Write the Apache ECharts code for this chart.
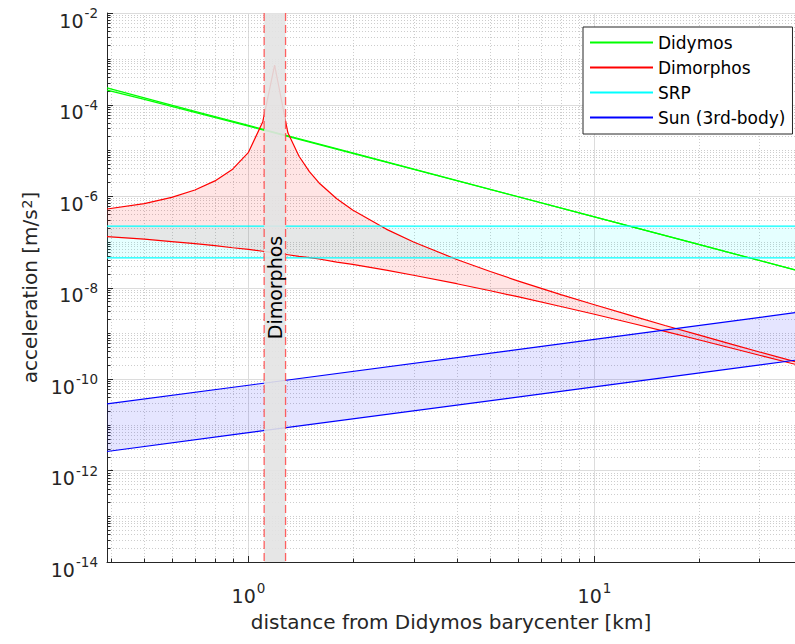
<!DOCTYPE html>
<html>
<head>
<meta charset="utf-8">
<script src="https://cdn.jsdelivr.net/npm/echarts@6/dist/echarts.min.js"></script>
<style>
html,body{margin:0;padding:0;background:#ffffff;}
#chart{width:795px;height:644px;}
</style>
</head>
<body>
<div id="chart"></div>
<script>
// ---------------- data ----------------
const xRange = [0.39, 38];
const yRange = [1e-14, 1e-2];
const xTickValues = [1, 10];
const yTickValues = [1e-14, 1e-12, 1e-10, 1e-8, 1e-6, 1e-4, 1e-2];
const xAxisTitle = 'distance from Didymos barycenter [km]';
const yAxisTitle = 'acceleration [m/s{s|2}]';
const legendNames = ['Didymos', 'Dimorphos', 'SRP', 'Sun (3rd-body)'];

const didymosX = [0.39, 0.5, 0.7, 1, 2, 5, 10, 20, 38];
const didymosUpper = [2.30e-4, 1.40e-4, 7.1e-5, 3.5e-5, 8.75e-6, 1.40e-6, 3.5e-7, 8.75e-8, 2.42e-8];
const didymosLower = [2.07e-4, 1.29e-4, 6.73e-5, 3.36e-5, 8.57e-6, 1.39e-6, 3.49e-7, 8.73e-8, 2.42e-8];

const dimorphosX = [0.39, 0.5, 0.6, 0.7, 0.8, 0.9, 1.0, 1.1, 1.19, 1.3, 1.4, 1.5, 1.6, 1.8, 2.0, 2.5, 3, 4, 5, 6, 8, 10, 13, 16, 20, 25, 30, 38];
const dimorphosNear = [5.2e-7, 6.8e-7, 9.3e-7, 1.35e-6, 2.14e-6, 3.86e-6, 9.0e-6, 4.2e-5, 7.3e-4, 2.4e-5, 7.4e-6, 3.4e-6, 1.93e-6, 8.7e-7, 4.95e-7, 1.89e-7, 9.9e-8, 4.1e-8, 2.24e-8, 1.40e-8, 7.0e-9, 4.2e-9, 2.33e-9, 1.48e-9, 9.2e-10, 5.7e-10, 3.9e-10, 2.4e-10];
const dimorphosFar = [1.30e-7, 1.14e-7, 1.01e-7, 9.1e-8, 8.2e-8, 7.4e-8, 6.8e-8, 6.2e-8, 5.7e-8, 5.2e-8, 4.8e-8, 4.5e-8, 4.2e-8, 3.6e-8, 3.2e-8, 2.4e-8, 1.85e-8, 1.21e-8, 8.5e-9, 6.3e-9, 3.85e-9, 2.6e-9, 1.61e-9, 1.10e-9, 7.2e-10, 4.7e-10, 3.3e-10, 2.1e-10];

const srpX = [0.39, 38];
const srpUpper = [2.2e-7, 2.2e-7];
const srpLower = [4.45e-8, 4.45e-8];

const sunX = [0.39, 1, 10, 38];
const sunUpper = [2.85e-11, 7.3e-11, 7.35e-10, 2.82e-9];
const sunLower = [2.6e-12, 6.7e-12, 6.7e-11, 2.57e-10];

const dimorphosZone = [1.11, 1.28];
const zoneLabel = 'Dimorphos';
const zoneLabelY = 1e-8;

// ---------------- styling ----------------
const FONT = 'DejaVu Sans';
const AXIS_COLOR = '#262626';
const COLORS = { didymos: '#00ff00', dimorphos: '#ff0000', srp: '#00ffff', sun: '#0000ff' };

function powLabel(v) {
  const e = Math.log10(v);
  const r = Math.round(e);
  if (Math.abs(e - r) > 1e-6) return '';
  return '{b|10}{s|' + r + '}';
}
const richTick = {
  b: { fontFamily: FONT, fontSize: 19, color: AXIS_COLOR, lineHeight: 20, padding: [8, 0, 0, 0], verticalAlign: 'top' },
  s: { fontFamily: FONT, fontSize: 13.5, color: AXIS_COLOR, lineHeight: 14, padding: [3, 0, 0, 1], verticalAlign: 'top' }
};

function multiples(lo, hi) {
  const out = [];
  for (let e = Math.floor(Math.log10(lo)) - 1; e <= Math.ceil(Math.log10(hi)) + 1; e++) {
    for (let k = 1; k <= 9; k++) {
      const v = k * Math.pow(10, e);
      if (v >= lo * 1.0001 && v <= hi / 1.0001) out.push(v);
    }
  }
  return out;
}
function isAmong(v, arr) { return arr.some(a => Math.abs(Math.log10(a) - Math.log10(v)) < 1e-6); }

function lineSeries(name, xs, ys, color) {
  return {
    type: 'line', name: name, data: xs.map((x, i) => [x, ys[i]]),
    symbol: 'none', showSymbol: false, color: color,
    itemStyle: { color: color }, lineStyle: { color: color, width: 1.2 },
    z: 3, silent: true, animation: false, clip: true
  };
}
function bandSeries(xs, lo, hi, fill) {
  return {
    type: 'custom', data: xs.map((x, i) => [x, lo[i], hi[i]]),
    encode: { x: 0, y: [1, 2] }, z: 2, silent: true, animation: false,
    renderItem: function (params, api) {
      if (params.dataIndex !== 0) return null;
      const pts = [];
      for (let i = 0; i < xs.length; i++) pts.push(api.coord([xs[i], hi[i]]));
      for (let i = xs.length - 1; i >= 0; i--) pts.push(api.coord([xs[i], lo[i]]));
      return { type: 'polygon', shape: { points: pts }, style: { fill: fill, stroke: null } };
    }
  };
}

const gridSeries = {
  type: 'custom', data: [[xRange[0], yRange[0]]], z: 0, silent: true, animation: false,
  renderItem: function (params, api) {
    const children = [];
    const left = api.coord([xRange[0], yRange[0]])[0];
    const right = api.coord([xRange[1], yRange[0]])[0];
    const bottom = api.coord([xRange[0], yRange[0]])[1];
    const top = api.coord([xRange[0], yRange[1]])[1];
    const xs = multiples(xRange[0], xRange[1]);
    const ys = multiples(yRange[0], yRange[1]).concat(yTickValues);
    xs.forEach(v => {
      const x = Math.round(api.coord([v, yRange[0]])[0]) + 0.5;
      const major = isAmong(v, xTickValues);
      children.push({ type: 'line', shape: { x1: x, y1: top, x2: x, y2: bottom },
        style: major ? { stroke: '#dcdcdc', lineWidth: 1 } : { stroke: '#cdcdcd', lineWidth: 1, lineDash: [1, 2] } });
      children.push({ type: 'line', shape: { x1: x, y1: bottom, x2: x, y2: bottom - (major ? 6 : 3.5) },
        style: { stroke: AXIS_COLOR, lineWidth: 1 } });
    });
    ys.forEach(v => {
      const y = Math.round(api.coord([xRange[0], v])[1]) + 0.5;
      const major = isAmong(v, yTickValues);
      if (v > yRange[0] * 1.0001 && v < yRange[1] / 1.0001 || major) {
        children.push({ type: 'line', shape: { x1: left, y1: y, x2: right, y2: y },
          style: major ? { stroke: '#dcdcdc', lineWidth: 1 } : { stroke: '#cdcdcd', lineWidth: 1, lineDash: [1, 2] } });
      }
      children.push({ type: 'line', shape: { x1: left, y1: y, x2: left + (major ? 6 : 3.5), y2: y },
        style: { stroke: AXIS_COLOR, lineWidth: 1 } });
    });
    return { type: 'group', children: children };
  }
};

const zoneSeries = {
  type: 'custom', data: [[dimorphosZone[0], dimorphosZone[1]]], encode: { x: [0, 1] },
  z: 6, silent: true, animation: false,
  renderItem: function (params, api) {
    const x0 = api.coord([api.value(0), yRange[1]])[0];
    const x1 = api.coord([api.value(1), yRange[1]])[0];
    const top = api.coord([xRange[0], yRange[1]])[1];
    const bottom = api.coord([xRange[0], yRange[0]])[1];
    const ly = api.coord([xRange[0], zoneLabelY])[1];
    return { type: 'group', children: [
      { type: 'rect', shape: { x: x0, y: top, width: x1 - x0, height: bottom - top },
        style: { fill: 'rgba(227,227,227,0.9)' } },
      { type: 'line', shape: { x1: x0, y1: top, x2: x0, y2: bottom },
        style: { stroke: 'rgba(255,70,70,0.85)', lineWidth: 1.3, lineDash: [8, 4] } },
      { type: 'line', shape: { x1: x1, y1: top, x2: x1, y2: bottom },
        style: { stroke: 'rgba(255,70,70,0.85)', lineWidth: 1.3, lineDash: [8, 4] } },
      { type: 'text', x: (x0 + x1) / 2, y: ly, rotation: Math.PI / 2,
        style: { text: zoneLabel, fontFamily: FONT, fontSize: 19, fill: '#000000',
          align: 'center', verticalAlign: 'middle' } }
    ] };
  }
};

const series = [
  gridSeries,
  bandSeries(didymosX, didymosLower, didymosUpper, 'rgba(0,255,0,0.1)'),
  bandSeries(dimorphosX, dimorphosFar, dimorphosNear, 'rgba(255,0,0,0.1)'),
  bandSeries(srpX, srpLower, srpUpper, 'rgba(0,255,255,0.1)'),
  bandSeries(sunX, sunLower, sunUpper, 'rgba(0,0,255,0.1)'),
  lineSeries('Didymos', didymosX, didymosUpper, COLORS.didymos),
  lineSeries('Didymos', didymosX, didymosLower, COLORS.didymos),
  lineSeries('Dimorphos', dimorphosX, dimorphosNear, COLORS.dimorphos),
  lineSeries('Dimorphos', dimorphosX, dimorphosFar, COLORS.dimorphos),
  lineSeries('SRP', srpX, srpUpper, COLORS.srp),
  lineSeries('SRP', srpX, srpLower, COLORS.srp),
  lineSeries('Sun (3rd-body)', sunX, sunUpper, COLORS.sun),
  lineSeries('Sun (3rd-body)', sunX, sunLower, COLORS.sun),
  zoneSeries
];

const chart = echarts.init(document.getElementById('chart'), null, { renderer: 'svg', width: 795, height: 644 });
chart.setOption({
  animation: false,
  backgroundColor: '#ffffff',
  grid: { left: 107, right: 0, top: 13, bottom: 82, containLabel: false },
  xAxis: {
    type: 'log', logBase: 10, min: xRange[0], max: xRange[1],
    axisLine: { show: true, onZero: false, lineStyle: { color: AXIS_COLOR, width: 1 } },
    axisTick: { show: false }, splitLine: { show: false },
    minorTick: { show: false }, minorSplitLine: { show: false },
    axisLabel: { show: true, customValues: xTickValues, margin: 16, formatter: powLabel, rich: richTick, color: AXIS_COLOR },
    name: xAxisTitle, nameLocation: 'middle', nameGap: 50,
    nameTextStyle: { fontFamily: FONT, fontSize: 20, color: AXIS_COLOR }
  },
  yAxis: {
    type: 'log', logBase: 10, min: yRange[0], max: yRange[1],
    axisLine: { show: true, onZero: false, lineStyle: { color: AXIS_COLOR, width: 1 } },
    axisTick: { show: false }, splitLine: { show: false },
    minorTick: { show: false }, minorSplitLine: { show: false },
    axisLabel: { show: true, customValues: yTickValues, margin: 9, formatter: powLabel, rich: richTick, color: AXIS_COLOR },
    name: yAxisTitle, nameLocation: 'middle', nameGap: 65,
    nameTextStyle: { fontFamily: FONT, fontSize: 20, color: AXIS_COLOR,
      rich: { s: { fontFamily: FONT, fontSize: 14, color: AXIS_COLOR, lineHeight: 14, padding: [0, 0, 0, 1], verticalAlign: 'top' } } }
  },
  legend: {
    show: true, orient: 'vertical', left: 583, top: 27, selectedMode: false,
    backgroundColor: '#ffffff', borderColor: AXIS_COLOR, borderWidth: 1, borderRadius: 0,
    padding: [7, 7, 8, 7], itemGap: 8, itemWidth: 63, itemHeight: 2, icon: 'rect',
    itemStyle: { borderWidth: 0 },
    textStyle: { fontFamily: FONT, fontSize: 17, color: '#000000', lineHeight: 17 },
    data: legendNames.map(n => ({ name: n, icon: 'rect' }))
  },
  series: series
});
</script>
</body>
</html>
